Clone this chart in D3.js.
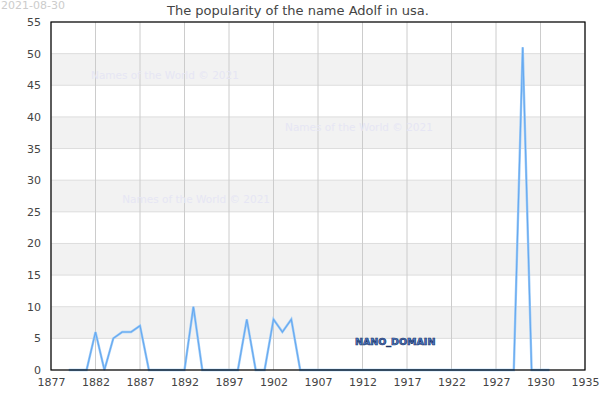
<!DOCTYPE html>
<html>
<head>
<meta charset="utf-8">
<script src="https://cdn.jsdelivr.net/npm/d3@7"></script>
<style>
  body { margin: 0; background: #fff; }
  text { font-family: "DejaVu Sans", sans-serif; }
</style>
</head>
<body>
<script>
// data
const years = d3.range(1879, 1934);
const counts = [
  0, 0, 0, 6, 0, 5, 6, 6, 7, 0,   // 1879-1888
  0, 0, 0, 0, 10, 0, 0, 0, 0, 0,  // 1889-1898
  8, 0, 0, 8, 6, 8, 0, 0, 0, 0,   // 1899-1908
  0, 0, 0, 0, 0, 0, 0, 0, 0, 0,   // 1909-1918
  0, 0, 0, 0, 0, 0, 0, 0, 0, 0,   // 1919-1928
  0, 51, 0, 0, 0                  // 1929-1933
];
const xTicks = d3.range(1877, 1938, 5);
const xTickLabels = ["1877", "1882", "1887", "1892", "1897", "1902", "1907", "1912", "1917", "1922", "1927", "1930", "1935"];
const yTicks = d3.range(0, 56, 5);
const watermarks = [
  { x: 1881.5, y: 46 },
  { x: 1903.3, y: 37.7 },
  { x: 1885, y: 26.4 }
];

const width = 600, height = 400;
const margin = { top: 22, right: 15, bottom: 30, left: 51 };

const svg = d3.select("body").append("svg")
  .attr("width", width)
  .attr("height", height);

const x = d3.scaleLinear().domain([1877, 1937]).range([margin.left, width - margin.right]);
const y = d3.scaleLinear().domain([0, 55]).range([height - margin.bottom, margin.top]);

// alternating bands
svg.selectAll("rect.band")
  .data(yTicks.filter(d => d % 10 === 5 && d < 55))
  .enter().append("rect")
  .attr("class", "band")
  .attr("x", x(1877))
  .attr("width", x(1937) - x(1877))
  .attr("y", d => y(d + 5))
  .attr("height", d => y(d) - y(d + 5))
  .attr("fill", "#f2f2f2");

// horizontal grid
svg.selectAll("line.hgrid")
  .data(yTicks)
  .enter().append("line")
  .attr("x1", x(1877)).attr("x2", x(1937))
  .attr("y1", d => y(d)).attr("y2", d => y(d))
  .attr("stroke", "#dddddd");

// vertical grid
svg.selectAll("line.vgrid")
  .data(xTicks)
  .enter().append("line")
  .attr("x1", d => x(d)).attr("x2", d => x(d))
  .attr("y1", y(0)).attr("y2", y(55))
  .attr("stroke", "#cccccc");

// watermarks
svg.selectAll("text.wm")
  .data(watermarks)
  .enter().append("text")
  .attr("x", d => x(d.x))
  .attr("y", d => y(d.y))
  .attr("font-size", 10.5)
  .attr("fill", "#e6e6f4")
  .text("Names of the World © 2021");

svg.append("text")
  .attr("x", 355).attr("y", 345)
  .attr("font-size", 9.5)
  .attr("font-weight", "bold")
  .attr("fill", "#4d7fd0")
  .attr("stroke", "#1c3366")
  .attr("stroke-width", 0.7)
  .text("NANO_DOMAIN");

// line
const line = d3.line()
  .x((d, i) => x(years[i]))
  .y(d => y(d));

svg.append("path")
  .datum(counts)
  .attr("fill", "none")
  .attr("stroke", "#9ccaf7")
  .attr("stroke-width", 2.4)
  .attr("d", line);
svg.append("path")
  .datum(counts)
  .attr("fill", "none")
  .attr("stroke", "#66a9f0")
  .attr("stroke-width", 1.1)
  .attr("d", line);

// frame
svg.append("rect")
  .attr("x", x(1877)).attr("y", y(55))
  .attr("width", x(1937) - x(1877))
  .attr("height", y(0) - y(55))
  .attr("fill", "none")
  .attr("stroke", "#000")
  .attr("stroke-width", 1.2);

// axes
const xAxis = svg.append("g")
  .attr("transform", `translate(0,${y(0)})`)
  .call(d3.axisBottom(x).tickValues(xTicks).tickSize(0).tickPadding(8)
    .tickFormat((d, i) => xTickLabels[i]));
const yAxis = svg.append("g")
  .attr("transform", `translate(${x(1877)},0)`)
  .call(d3.axisLeft(y).tickValues(yTicks).tickSize(0).tickPadding(10));

[xAxis, yAxis].forEach(g => {
  g.select(".domain").remove();
  g.selectAll("text")
    .attr("font-family", "DejaVu Sans, sans-serif")
    .attr("font-size", 11)
    .attr("fill", "#444");
});

// title and date
svg.append("text")
  .attr("x", 298).attr("y", 15)
  .attr("text-anchor", "middle")
  .attr("font-size", 13)
  .attr("fill", "#444")
  .text("The popularity of the name Adolf in usa.");

svg.append("text")
  .attr("x", 1).attr("y", 9)
  .attr("font-size", 11)
  .attr("fill", "#cccccc")
  .text("2021-08-30");
</script>
</body>
</html>
